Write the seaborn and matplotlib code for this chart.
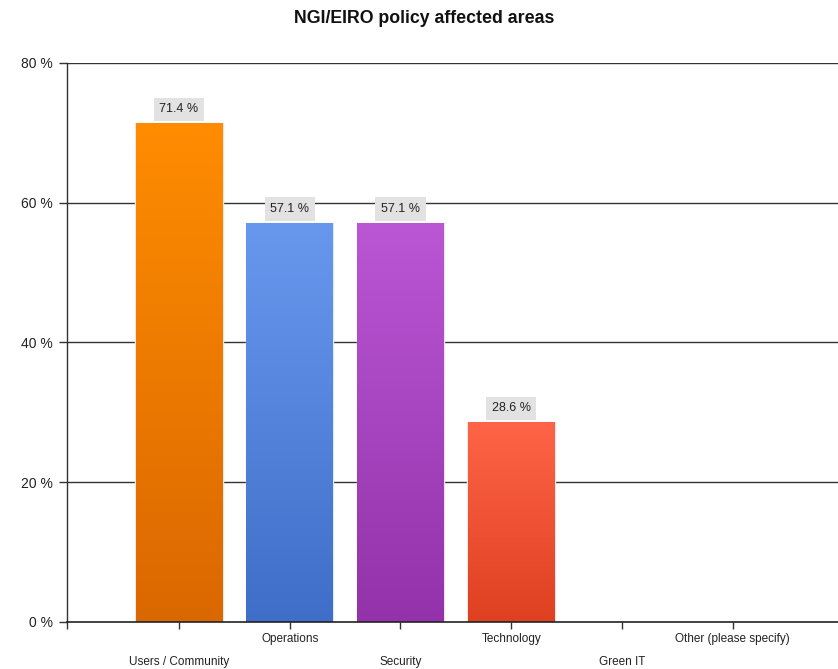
import numpy as np
import pandas as pd
import seaborn as sns
import matplotlib.pyplot as plt
from matplotlib.colors import LinearSegmentedColormap

categories = ["Users / Community", "Operations", "Security", "Technology", "Green IT", "Other (please specify)"]
values = [71.4, 57.1, 57.1, 28.6, 0.0, 0.0]
top_colors = ["#FF8C00", "#6898EE", "#BB56D4", "#FF6448", "#A0A0A0", "#A0A0A0"]
bottom_colors = ["#DA6800", "#3F6EC8", "#9332AA", "#DE4020", "#808080", "#808080"]
y_ticks = [0, 20, 40, 60, 80]

sns.set_theme(style="white")
plt.rcParams['font.family'] = ['Liberation Sans', 'DejaVu Sans']

df = pd.DataFrame({"area": categories, "pct": values})

fig = plt.figure(figsize=(8.38, 6.69), dpi=100)
ax = fig.add_axes([0.080, 0.0703, 0.920, 0.8356])

sns.barplot(data=df, x="area", y="pct", ax=ax, width=0.79,
            palette=top_colors, hue="area", legend=False,
            edgecolor="#e8e8e8", linewidth=1, saturation=1)

x_left, x_right = -1.01, 5.95

# gradient fill on each bar
for patch, c_top, c_bot, v in zip(ax.patches, top_colors, bottom_colors, values):
    if v <= 0:
        continue
    x0, w = patch.get_x(), patch.get_width()
    cmap = LinearSegmentedColormap.from_list("g", [c_bot, c_top])
    grad = np.linspace(0, 1, 256).reshape(-1, 1)
    im = ax.imshow(grad, cmap=cmap, origin="lower", aspect="auto",
                   extent=[x0 + 0.005, x0 + w - 0.005, 0, v - 0.1],
                   zorder=patch.get_zorder() + 0.1)
    im.set_clip_path(patch)

ax.set_xlim(x_left, x_right)
ax.set_ylim(0, 80)

# value labels
for i, v in enumerate(values):
    if v <= 0:
        continue
    ax.annotate(f"{v:.1f} %", (i, v), xytext=(0, 10), textcoords="offset points",
                ha="center", va="center", fontsize=9, color="#222222",
                bbox=dict(boxstyle="square,pad=0.45", fc="#e2e2e2", ec="none"),
                zorder=5)

# grid and axes
ax.set_yticks(y_ticks)
ax.set_yticklabels([f"{t} %" for t in y_ticks], fontsize=10, color="#222222")
for t in y_ticks[1:]:
    ax.axhline(t, color="#333333", linewidth=1, zorder=0.5)
ax.tick_params(axis="y", length=6, width=1, color="#333333", pad=4, left=True)
ax.tick_params(axis="x", length=5, width=1, color="#333333", bottom=True)

for s in ["top", "right"]:
    ax.spines[s].set_visible(False)
ax.spines["left"].set_color("#333333")
ax.spines["bottom"].set_color("#222222")
ax.spines["left"].set_linewidth(1)
ax.spines["bottom"].set_linewidth(1.2)

ax.set_xticks([x_left] + list(range(len(categories))))
ax.set_xticklabels([])
for i, name in enumerate(categories):
    y = -0.0300 if i % 2 == 1 else -0.0710
    ax.text(i, y, name, transform=ax.get_xaxis_transform(), ha="center", va="center",
            fontsize=8.5, color="#222222")

ax.set_xlabel("")
ax.set_ylabel("")
fig.suptitle("NGI/EIRO policy affected areas", x=0.506, y=0.985, fontsize=12.8,
             fontweight="bold", color="#111111")

fig.savefig("out.png", dpi=100)
